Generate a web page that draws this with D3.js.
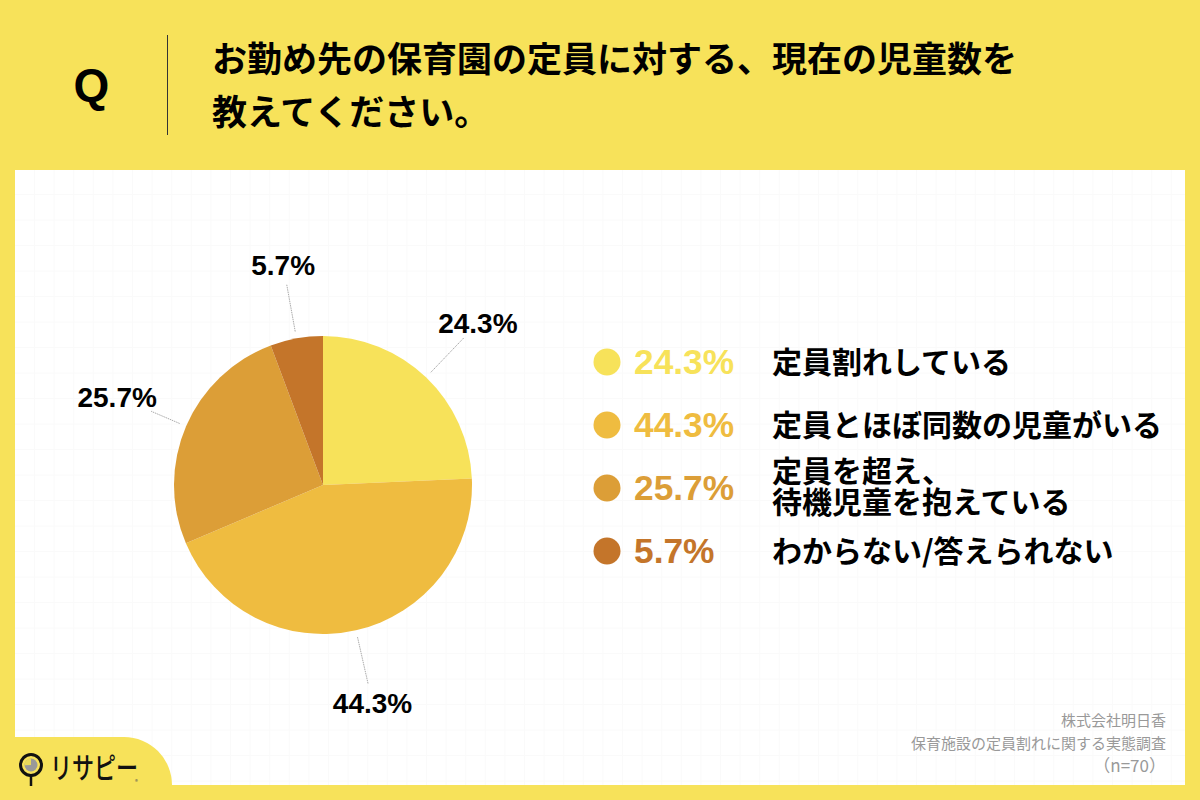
<!DOCTYPE html>
<html>
<head>
<meta charset="utf-8">
<script src="https://cdn.jsdelivr.net/npm/d3@7"></script>
<style>
body { margin: 0; background: #f7e25a; }
svg { display: block; }
text { font-family: "Noto Sans CJK JP", sans-serif; }
.num { font-family: "Liberation Sans", sans-serif; font-weight: 700; }
</style>
</head>
<body>
<script>
// chart data
var titleLines = ["お勤め先の保育園の定員に対する、現在の児童数を", "教えてください。"];
var values = [24.3, 44.3, 25.7, 5.7];
var legendLabels = [
  ["定員割れしている"],
  ["定員とほぼ同数の児童がいる"],
  ["定員を超え、", "待機児童を抱えている"],
  ["わからない/答えられない"]
];
var colors = ["#f7e25a", "#efbc40", "#dc9e37", "#c4752a"];
var footerLines = ["株式会社明日香", "保育施設の定員割れに関する実態調査"];
var sampleNote = "（n=70）";

var width = 1200, height = 800;
var svg = d3.select("body").append("svg")
    .attr("width", width)
    .attr("height", height);

// white panel with the faint grid
svg.append("rect").attr("width", width).attr("height", height).attr("fill", "#f7e25a");
svg.append("rect")
    .attr("x", 15).attr("y", 170)
    .attr("width", 1170).attr("height", 615)
    .attr("fill", "#fff");

var gridX = d3.range(34.5, 1185, 19.6);
var gridY = d3.range(194.5, 785, 25.5);
var grid = svg.append("g").attr("stroke", "#fafafa").attr("stroke-width", 1);
grid.selectAll(".gx").data(gridX).enter().append("line")
    .attr("x1", d => d).attr("x2", d => d)
    .attr("y1", 170).attr("y2", 785);
grid.selectAll(".gy").data(gridY).enter().append("line")
    .attr("x1", 15).attr("x2", 1185)
    .attr("y1", d => d).attr("y2", d => d);

// header
svg.append("text").attr("class", "num")
    .attr("x", 91.5).attr("y", 101)
    .attr("text-anchor", "middle")
    .attr("font-size", 46)
    .attr("fill", "#000")
    .text("Q");
svg.append("line")
    .attr("x1", 167.5).attr("x2", 167.5)
    .attr("y1", 35).attr("y2", 135)
    .attr("stroke", "#333");
svg.selectAll(".title").data(titleLines).enter().append("text")
    .attr("x", 212)
    .attr("y", (d, i) => 72 + i * 53)
    .attr("font-size", 35)
    .attr("font-weight", 700)
    .attr("fill", "#000")
    .text(d => d);

// pie
var radius = 149;
var pie = d3.pie().sort(null).value(d => d);
var arcs = pie(values);
var arc = d3.arc().innerRadius(0).outerRadius(radius);
var g = svg.append("g").attr("transform", "translate(323,485)");

g.selectAll("path").data(arcs).enter().append("path")
    .attr("d", arc)
    .attr("fill", (d, i) => colors[i]);

// leader lines and labels sit along each slice's middle angle
function polar(d, r) {
  var a = (d.startAngle + d.endAngle) / 2;
  return [Math.sin(a) * r, -Math.cos(a) * r];
}
var leaderEnd = d => d.index == 2 ? 187 : 204;

g.selectAll(".leader").data(arcs).enter().append("line")
    .attr("x1", d => polar(d, 156)[0])
    .attr("y1", d => polar(d, 156)[1])
    .attr("x2", d => polar(d, leaderEnd(d))[0])
    .attr("y2", d => polar(d, leaderEnd(d))[1])
    .attr("stroke", "#aaa")
    .attr("stroke-width", 1)
    .attr("stroke-dasharray", "1.5 0.8");

g.selectAll(".label").data(arcs).enter().append("text")
    .attr("class", "num")
    .attr("x", d => polar(d, 224)[0])
    .attr("y", d => polar(d, 224)[1] + 10)
    .attr("text-anchor", "middle")
    .attr("font-size", 28)
    .attr("fill", "#000")
    .text(d => d.value + "%");

// legend
var rowY = d3.scalePoint().domain(d3.range(values.length)).range([362, 551]);
var rows = svg.selectAll(".row").data(values).enter().append("g")
    .attr("transform", (d, i) => "translate(0," + rowY(i) + ")");

rows.append("circle")
    .attr("cx", 607)
    .attr("r", 13.5)
    .attr("fill", (d, i) => colors[i]);
rows.append("text").attr("class", "num")
    .attr("x", 634).attr("y", 12)
    .attr("font-size", 35.3)
    .attr("fill", (d, i) => colors[i])
    .text(d => d + "%");
rows.each(function(d, i) {
  var lines = legendLabels[i];
  d3.select(this).selectAll(".lab").data(lines).enter().append("text")
      .attr("x", 772)
      .attr("y", (t, j) => (lines.length > 1 ? 9.5 : 11) + (j - (lines.length - 1) / 2) * 31)
      .attr("font-size", 30)
      .attr("font-weight", 700)
      .attr("fill", "#000")
      .text(t => t);
});

// footer
svg.selectAll(".foot").data(footerLines).enter().append("text")
    .attr("x", 1166)
    .attr("y", (d, i) => 726 + i * 23)
    .attr("text-anchor", "end")
    .attr("font-size", 15)
    .attr("fill", "#999")
    .text(d => d);
svg.append("text")
    .attr("x", 1166).attr("y", 772)
    .attr("text-anchor", "end")
    .attr("font-size", 17)
    .attr("fill", "#999")
    .text(sampleNote);

// logo tab
svg.append("path")
    .attr("d", "M0,785V737H124A48,48 0 0 1 172,785Z")
    .attr("fill", "#f7e25a");
var logo = svg.append("g").attr("transform", "translate(31,765)");
logo.append("line").attr("y1", 11).attr("y2", 21).attr("stroke", "#111").attr("stroke-width", 2.5);
logo.append("circle").attr("r", 10.5).attr("fill", "#f7e25a").attr("stroke", "#111").attr("stroke-width", 3);
logo.append("circle").attr("r", 6.5).attr("fill", "#999");
logo.append("path").attr("d", d3.arc().innerRadius(0).outerRadius(6.5).startAngle(-1.6).endAngle(0)()).attr("fill", "#e8d95a");
svg.append("text")
    .attr("transform", "translate(50,779) scale(0.76,1)")
    .attr("font-size", 29)
    .attr("font-weight", 500)
    .attr("fill", "#111")
    .text("リサピー");
svg.append("text")
    .attr("x", 135).attr("y", 784)
    .attr("font-size", 6)
    .attr("fill", "#555")
    .text("®");
</script>
</body>
</html>
